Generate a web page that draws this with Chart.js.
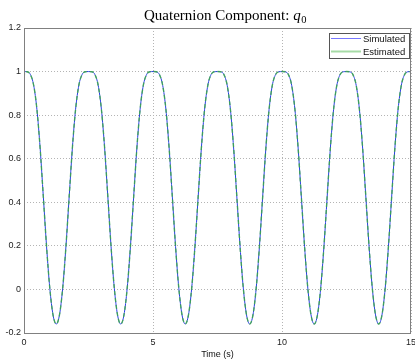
<!DOCTYPE html>
<html>
<head>
<meta charset="utf-8">
<script src="https://cdn.jsdelivr.net/npm/chart.js@4.4.1/dist/chart.umd.min.js"></script>
<style>
  html, body { margin: 0; padding: 0; background: #fff; }
  canvas { display: block; }
</style>
</head>
<body>
<canvas id="c" width="415" height="363"></canvas>
<script>
// values (time in s)
const times = [
  0, 0.02, 0.125, 0.25, 0.375, 0.5, 0.625, 0.75, 0.875, 1, 1.125, 1.25, 1.375, 1.5, 1.625, 1.75, 1.875, 2, 2.125, 2.25, 2.375,
  2.5, 2.625, 2.75, 2.875, 3, 3.125, 3.25, 3.375, 3.5, 3.625, 3.75, 3.875, 4, 4.125, 4.25, 4.375, 4.5, 4.625, 4.75, 4.875,
  5, 5.125, 5.25, 5.375, 5.5, 5.625, 5.75, 5.875, 6, 6.125, 6.25, 6.375, 6.5, 6.625, 6.75, 6.875, 7, 7.125, 7.25, 7.375,
  7.5, 7.625, 7.75, 7.875, 8, 8.125, 8.25, 8.375, 8.5, 8.625, 8.75, 8.875, 9, 9.125, 9.25, 9.375, 9.5, 9.625, 9.75, 9.875,
  10, 10.125, 10.25, 10.375, 10.5, 10.625, 10.75, 10.875, 11, 11.125, 11.25, 11.375, 11.5, 11.625, 11.75, 11.875, 12, 12.125, 12.25, 12.375,
  12.5, 12.625, 12.75, 12.875, 13, 13.125, 13.25, 13.375, 13.5, 13.625, 13.75, 13.875, 14, 14.125, 14.25, 14.375, 14.5, 14.625, 14.75, 14.875,
  15
];

const simulated = [
  1.000, 1.000, 0.999, 0.986, 0.937, 0.827, 0.649, 0.424, 0.196, 0.006, -0.117, -0.159, -0.117, 0.006, 0.196, 0.424, 0.649, 0.827, 0.937, 0.986, 0.999,
  1.000, 0.999, 0.986, 0.937, 0.827, 0.649, 0.424, 0.196, 0.006, -0.117, -0.159, -0.117, 0.006, 0.196, 0.424, 0.649, 0.827, 0.937, 0.986, 0.999,
  1.000, 0.999, 0.986, 0.937, 0.827, 0.649, 0.424, 0.196, 0.006, -0.117, -0.159, -0.117, 0.006, 0.196, 0.424, 0.649, 0.827, 0.937, 0.986, 0.999,
  1.000, 0.999, 0.986, 0.937, 0.827, 0.649, 0.424, 0.196, 0.006, -0.117, -0.159, -0.117, 0.006, 0.196, 0.424, 0.649, 0.827, 0.937, 0.986, 0.999,
  1.000, 0.999, 0.986, 0.937, 0.827, 0.649, 0.424, 0.196, 0.006, -0.117, -0.159, -0.117, 0.006, 0.196, 0.424, 0.649, 0.827, 0.937, 0.986, 0.999,
  1.000, 0.999, 0.986, 0.937, 0.827, 0.649, 0.424, 0.196, 0.006, -0.117, -0.159, -0.117, 0.006, 0.196, 0.424, 0.649, 0.827, 0.937, 0.986, 0.999,
  1.000
];

const estimated = [
  0.910, 1.000, 0.999, 0.986, 0.937, 0.827, 0.649, 0.424, 0.196, 0.006, -0.117, -0.159, -0.117, 0.006, 0.196, 0.424, 0.649, 0.827, 0.937, 0.986, 0.999,
  1.000, 0.999, 0.986, 0.937, 0.827, 0.649, 0.424, 0.196, 0.006, -0.117, -0.159, -0.117, 0.006, 0.196, 0.424, 0.649, 0.827, 0.937, 0.986, 0.999,
  1.000, 0.999, 0.986, 0.937, 0.827, 0.649, 0.424, 0.196, 0.006, -0.117, -0.159, -0.117, 0.006, 0.196, 0.424, 0.649, 0.827, 0.937, 0.986, 0.999,
  1.000, 0.999, 0.986, 0.937, 0.827, 0.649, 0.424, 0.196, 0.006, -0.117, -0.159, -0.117, 0.006, 0.196, 0.424, 0.649, 0.827, 0.937, 0.986, 0.999,
  1.000, 0.999, 0.986, 0.937, 0.827, 0.649, 0.424, 0.196, 0.006, -0.117, -0.159, -0.117, 0.006, 0.196, 0.424, 0.649, 0.827, 0.937, 0.986, 0.999,
  1.000, 0.999, 0.986, 0.937, 0.827, 0.649, 0.424, 0.196, 0.006, -0.117, -0.159, -0.117, 0.006, 0.196, 0.424, 0.649, 0.827, 0.937, 0.986, 0.999,
  1.000
];

const seriesLabels = ["Simulated", "Estimated"];
const xTitle = "Time (s)";

const tickFont = { family: "'Liberation Sans', Arial, sans-serif", size: 9 };
const frameColor = "#808080";
const gridColor = "#b4b4b4";
const serif = "'Liberation Serif', 'DejaVu Serif', serif";

const toPoints = (ys) => times.map((t, i) => ({ x: t, y: ys[i] }));

// box around the plot + matlab style legend + title
const framePlugin = {
  id: "frame",
  afterDraw(chart) {
    const { ctx, chartArea: a } = chart;
    ctx.save();
    ctx.strokeStyle = frameColor;
    ctx.lineWidth = 1;
    ctx.strokeRect(Math.round(a.left) + 0.5, Math.round(a.top) + 0.5,
      Math.round(a.right - a.left) - 1, Math.round(a.bottom - a.top));

    // legend
    const bx = 329.5, by = 33.5, bw = 80, bh = 25;
    ctx.fillStyle = "#fff";
    ctx.fillRect(bx, by, bw, bh);
    ctx.strokeStyle = "#555";
    ctx.strokeRect(bx, by, bw, bh);
    ctx.font = "9.5px 'Liberation Sans', Arial, sans-serif";
    ctx.textBaseline = "middle";
    ctx.textAlign = "left";
    const legColors = ["#7777ff", "#a6dba6"];
    const legWidths = [1, 2];
    chart.data.datasets.forEach((ds, i) => {
      const ly = 38.5 + i * 13;
      ctx.strokeStyle = legColors[i];
      ctx.lineWidth = legWidths[i];
      ctx.beginPath();
      ctx.moveTo(331, ly);
      ctx.lineTo(361, ly);
      ctx.stroke();
      ctx.fillStyle = "#111";
      ctx.fillText(ds.label, 363, ly + 0.5);
    });

    // title: Quaternion Component: q_0
    ctx.fillStyle = "#000";
    ctx.textBaseline = "alphabetic";
    ctx.textAlign = "left";
    const main = "Quaternion Component: ";
    const base = 20;
    let x = 144;
    ctx.font = "15px " + serif;
    ctx.fillText(main, x, base);
    x += ctx.measureText(main).width;
    ctx.font = "italic 15px " + serif;
    ctx.fillText("q", x, base);
    x += ctx.measureText("q").width;
    ctx.font = "10.5px " + serif;
    ctx.fillText("0", x + 0.5, base + 3);
    ctx.restore();
  }
};

new Chart(document.getElementById("c"), {
  type: "line",
  data: {
    datasets: [
      {
        label: seriesLabels[0],
        data: toPoints(simulated),
        borderColor: "#2a3fe0",
        borderWidth: 1,
        pointRadius: 0,
        fill: false,
        cubicInterpolationMode: "monotone",
        order: 1
      },
      {
        label: seriesLabels[1],
        data: toPoints(estimated),
        borderColor: "rgba(60,170,70,0.85)",
        borderWidth: 1.4,
        borderDash: [4, 3],
        pointRadius: 0,
        fill: false,
        cubicInterpolationMode: "monotone",
        order: 0
      }
    ]
  },
  options: {
    responsive: false,
    animation: false,
    devicePixelRatio: 1,
    layout: { padding: { top: 28, right: 4, left: 0, bottom: 0 } },
    plugins: {
      legend: { display: false },
      title: { display: false },
      tooltip: { enabled: false }
    },
    scales: {
      x: {
        type: "linear",
        min: 0,
        max: 15,
        ticks: { stepSize: 5, font: tickFont, color: "#222", padding: 4, maxRotation: 0 },
        grid: { color: gridColor, drawTicks: false },
        border: { display: false, dash: [1, 2] },
        title: { display: true, text: xTitle, font: tickFont, color: "#111", padding: { top: 2, bottom: 3 } },
        afterFit(scale) {
          scale.height = 30;
          scale.paddingLeft = 0;
          scale.paddingRight = 0;
        }
      },
      y: {
        min: -0.2,
        max: 1.2,
        ticks: {
          stepSize: 0.2,
          font: tickFont,
          color: "#222",
          padding: 3,
          callback: (v) => String(Math.round(v * 10) / 10)
        },
        grid: { color: gridColor, drawTicks: false },
        border: { display: false, dash: [1, 2] },
        afterFit(scale) {
          scale.width = 24;
          scale.paddingTop = 0;
          scale.paddingBottom = 0;
        }
      }
    }
  },
  plugins: [framePlugin]
});
</script>
</body>
</html>
